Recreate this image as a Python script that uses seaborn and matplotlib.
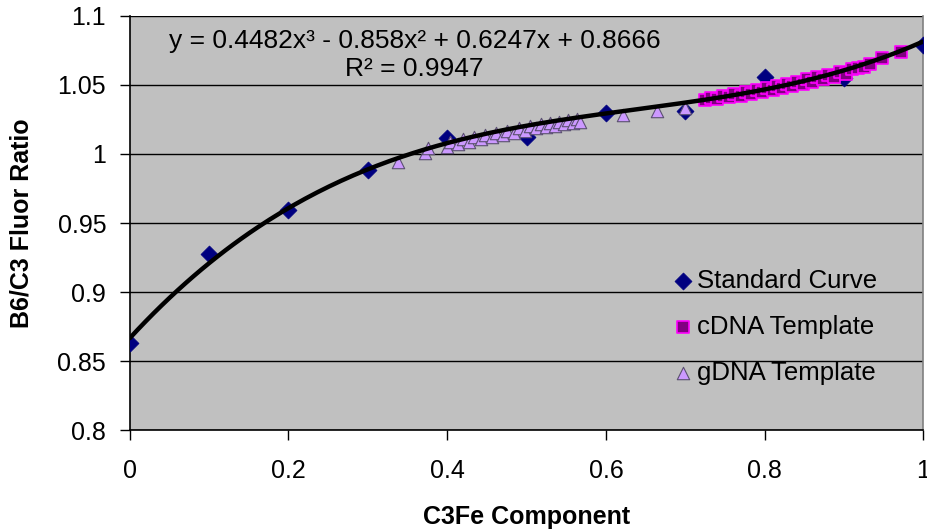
import numpy as np
import pandas as pd
import matplotlib
matplotlib.use('Agg')
import matplotlib.pyplot as plt
import seaborn as sns

# standard curve points
std_x = [0.0, 0.1, 0.2, 0.3, 0.4, 0.5, 0.6, 0.7, 0.8, 0.9, 1.0]
std_y = [0.863, 0.9275, 0.9594, 0.9884, 1.0116, 1.0123, 1.0297, 1.031, 1.0558, 1.055, 1.079]

# cDNA template
cdna_x = [0.725, 0.732, 0.740, 0.748, 0.755, 0.762, 0.770, 0.776, 0.783, 0.790,
          0.797, 0.803, 0.810, 0.816, 0.822, 0.828, 0.835, 0.841, 0.848, 0.854,
          0.860, 0.866, 0.873, 0.880, 0.888, 0.895, 0.903, 0.910, 0.918, 0.925,
          0.933, 0.948, 0.972]
cdna_y = [1.0390, 1.0405, 1.0398, 1.0420, 1.0410, 1.0435, 1.0420, 1.0448, 1.0432, 1.0462,
          1.0448, 1.0478, 1.0460, 1.0492, 1.0475, 1.0505, 1.0490, 1.0520, 1.0505, 1.0540,
          1.0520, 1.0555, 1.0540, 1.0572, 1.0556, 1.0592, 1.0580, 1.0612, 1.0625, 1.0630,
          1.0650, 1.0695, 1.0740]

# gDNA template
gdna_x = [0.338, 0.372, 0.376, 0.400, 0.404, 0.414, 0.420, 0.428, 0.434, 0.442,
          0.448, 0.456, 0.462, 0.470, 0.476, 0.484, 0.490, 0.498, 0.504, 0.512,
          0.518, 0.524, 0.530, 0.536, 0.541, 0.547, 0.552, 0.558, 0.563, 0.568,
          0.621, 0.665, 0.700]
gdna_y = [0.9945, 1.0005, 1.0045, 1.0050, 1.0090, 1.0070, 1.0105, 1.0085, 1.0120, 1.0105,
          1.0140, 1.0120, 1.0155, 1.0135, 1.0170, 1.0150, 1.0185, 1.0170, 1.0205, 1.0185,
          1.0215, 1.0195, 1.0225, 1.0205, 1.0235, 1.0215, 1.0245, 1.0225, 1.0250, 1.0235,
          1.0283, 1.0315, 1.0335]

# cubic trendline coefficients (highest power first)
coefs = [0.4482, -0.858, 0.6247, 0.8666]
r2 = 0.9947

sns.set_style('white')
plt.rcParams['font.family'] = ['Liberation Sans', 'DejaVu Sans']
plt.rcParams['text.color'] = 'black'
plt.rcParams['axes.labelcolor'] = 'black'

fig = plt.figure(figsize=(9.27, 5.31), dpi=100)
ax = fig.add_axes([0.140, 0.190, 0.856, 0.780])
ax.set_facecolor('#C0C0C0')

std = pd.DataFrame({'x': std_x, 'y': std_y})
cdna = pd.DataFrame({'x': cdna_x, 'y': cdna_y})
gdna = pd.DataFrame({'x': gdna_x, 'y': gdna_y})

sns.scatterplot(data=std, x='x', y='y', marker='D', s=75, color='#000080',
                edgecolor='#000080', linewidth=0.5, label='Standard Curve', ax=ax, zorder=3)
sns.scatterplot(data=cdna, x='x', y='y', marker='s', s=80, color='#800080',
                edgecolor='#FF00FF', linewidth=1.2, label='cDNA Template', ax=ax, zorder=3)
sns.scatterplot(data=gdna, x='x', y='y', marker='^', s=80, color='#CC99FF',
                edgecolor='#5a5070', linewidth=0.8, label='gDNA Template', ax=ax, zorder=3)

xs = np.linspace(0, 1, 200)
trend = pd.DataFrame({'x': xs, 'y': np.polyval(coefs, xs)})
sns.lineplot(data=trend, x='x', y='y', color='black', linewidth=3.2, ax=ax, zorder=4,
             legend=False)

ax.set_xlim(0, 1)
ax.set_ylim(0.8, 1.1)
ax.set_xticks([0, 0.2, 0.4, 0.6, 0.8, 1.0])
ax.set_xticklabels(['0', '0.2', '0.4', '0.6', '0.8', '1'])
ax.set_yticks([0.8, 0.85, 0.9, 0.95, 1.0, 1.05, 1.1])
ax.set_yticklabels(['0.8', '0.85', '0.9', '0.95', '1', '1.05', '1.1'])
ax.grid(axis='y', color='black', linewidth=1.0)
ax.set_axisbelow(True)
ax.tick_params(axis='both', direction='out', length=7, width=1, labelsize=18,
               bottom=True, left=True, colors='black')
ax.tick_params(axis='x', pad=14)
ax.tick_params(axis='y', pad=10)

for side in ['left', 'bottom']:
    ax.spines[side].set_color('black')
    ax.spines[side].set_linewidth(1.2)
ax.spines['top'].set_visible(False)
ax.spines['right'].set_color('#808080')
ax.spines['right'].set_linewidth(1.2)

ax.set_xlabel('C3Fe Component', fontsize=18, fontweight='bold', labelpad=16)
ax.set_ylabel('B6/C3 Fluor Ratio', fontsize=18, fontweight='bold')
ax.yaxis.set_label_coords(-0.121, 0.5)

eq = 'y = {:.4f}x³ - {:.3f}x² + {:.4f}x + {:.4f}'.format(coefs[0], -coefs[1], coefs[2], coefs[3])
ax.text(0.359, 0.940, eq, transform=ax.transAxes, fontsize=19, ha='center', va='center')
ax.text(0.359, 0.872, 'R² = {:.4f}'.format(r2), transform=ax.transAxes, fontsize=19,
        ha='center', va='center')

ax.legend(loc='upper left', bbox_to_anchor=(0.666, 0.42), frameon=False, fontsize=18.5,
          handletextpad=0.1, handlelength=0.9, labelspacing=0.85, borderpad=0,
          markerscale=1.0)

fig.savefig('out.png', dpi=100)
